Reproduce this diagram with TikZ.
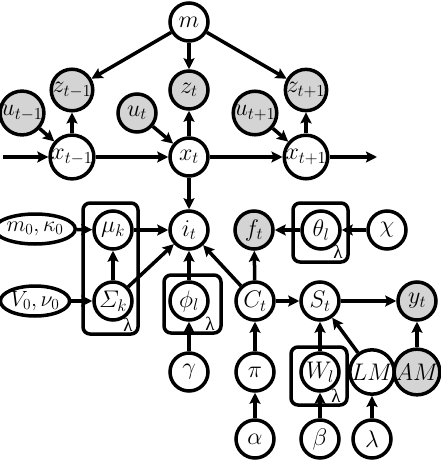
\RequirePackage{fix-cm}
\documentclass[tikz,border=0pt]{standalone}
\usepackage{amsmath}
\usepackage{fontspec}
\setmainfont{Liberation Serif}
\usetikzlibrary{shapes.geometric,arrows.meta}
\begin{document}
\begin{tikzpicture}[x=1pt,y=-1pt,
  var/.style={circle,draw,fill=white,line width=3.5pt,minimum size=38pt,inner sep=0pt,font=\fontsize{24}{24}\selectfont},
  obs/.style={var,fill=black!17},
  hyp/.style={ellipse,draw,fill=white,line width=3.5pt,minimum width=64pt,minimum height=30pt,inner sep=0pt,font=\fontsize{22}{22}\selectfont},
  edge/.style={line width=3.5pt,-{Stealth[length=11pt,width=11pt,inset=2pt]}},
  plate/.style={draw,line width=3.5pt,rounded corners=7pt},
  platelbl/.style={font=\fontsize{19}{19}\selectfont,inner sep=0pt}
]
\useasboundingbox (0,0) rectangle (440,460);
% plates
\draw[plate] (83,203) rectangle (138,334);
\draw[plate] (293,203) rectangle (348,262);
\draw[plate] (164,275) rectangle (221,333);
\draw[plate] (291,347) rectangle (347,405);
\node[platelbl] (lp1) at (128,325) {λ};
\node[platelbl] (lp2) at (338,252) {λ};
\node[platelbl] (lp3) at (210,324) {λ};
\node[platelbl] (lp4) at (336,396) {λ};
% top
\node[var] (m) at (189,22) {$m$};
\node[obs] (z1) at (72,90) {$z_{t-1}$};
\node[obs] (z2) at (189,90) {$z_t$};
\node[obs] (z3) at (306,90) {$z_{t+1}$};
\node[obs] (u1) at (22,113) {$u_{t-1}$};
\node[obs] (u2) at (137,113) {$u_t$};
\node[obs] (u3) at (255,113) {$u_{t+1}$};
\node[var] (x1) at (72,157) {$x_{t-1}$};
\node[var] (x2) at (189,157) {$x_t$};
\node[var] (x3) at (306,157) {$x_{t+1}$};
\coordinate (cs) at (3,157);
\coordinate (ce) at (377,157);
% middle
\node[hyp] (mk) at (35,229) {$m_0,\kappa_0$};
\node[hyp] (vn) at (35,301) {$V_0,\nu_0$};
\node[var] (mu) at (113,230) {$\mu_k$};
\node[var] (sig) at (113,301) {$\varSigma_k$};
\node[var] (i) at (189,230) {$i_t$};
\node[obs] (f) at (254,230) {$f_t$};
\node[var] (th) at (321,230) {$\theta_l$};
\node[var] (chi) at (387,230) {$\chi$};
\node[var] (phi) at (189,301) {$\phi_l$};
\node[var] (C) at (255,301) {$C_t$};
\node[var] (S) at (320,301) {$S_t$};
\node[obs] (y) at (417,301) {$y_t$};
\node[var] (gam) at (189,372) {$\gamma$};
\node[var] (pi) at (255,372) {$\pi$};
\node[var] (W) at (320,372) {$W_l$};
\node[var] (LM) at (372,372) {$LM$};
\node[obs] (AM) at (417,372) {$AM$};
\node[var] (al) at (255,439) {$\alpha$};
\node[var] (be) at (320,439) {$\beta$};
\node[var] (la) at (372,439) {$\lambda$};
% edges
\draw[edge] (m) -- (z1);
\draw[edge] (m) -- (z2);
\draw[edge] (m) -- (z3);
\draw[edge] (x1) -- (z1);
\draw[edge] (x2) -- (z2);
\draw[edge] (x3) -- (z3);
\draw[edge] (u1) -- (x1);
\draw[edge] (u2) -- (x2);
\draw[edge] (u3) -- (x3);
\draw[edge] (cs) -- (x1);
\draw[edge] (x1) -- (x2);
\draw[edge] (x2) -- (x3);
\draw[edge] (x3) -- (ce);
\draw[edge] (x2) -- (i);
\draw[edge] (mk) -- (mu);
\draw[edge] (vn) -- (sig);
\draw[edge] (sig) -- (mu);
\draw[edge] (mu) -- (i);
\draw[edge] (sig) -- (i);
\draw[edge] (phi) -- (i);
\draw[edge] (gam) -- (phi);
\draw[edge] (C) -- (i);
\draw[edge] (C) -- (f);
\draw[edge] (th) -- (f);
\draw[edge] (chi) -- (th);
\draw[edge] (C) -- (S);
\draw[edge] (S) -- (y);
\draw[edge] (pi) -- (C);
\draw[edge] (al) -- (pi);
\draw[edge] (W) -- (S);
\draw[edge] (be) -- (W);
\draw[edge] (LM) -- (S);
\draw[edge] (la) -- (LM);
\draw[edge] (AM) -- (y);
\end{tikzpicture}
\end{document}
